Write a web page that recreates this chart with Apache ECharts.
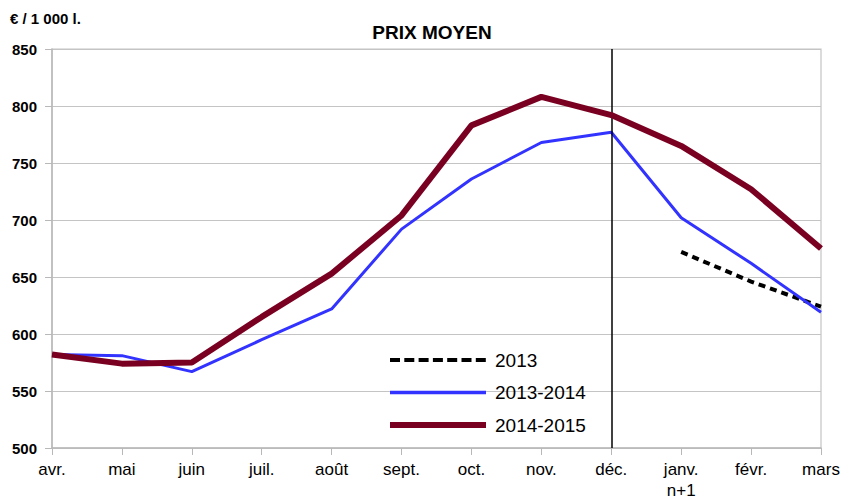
<!DOCTYPE html>
<html><head><meta charset="utf-8">
<script src="https://cdn.jsdelivr.net/npm/echarts@6/dist/echarts.min.js"></script>
<style>html,body{margin:0;padding:0;background:#fff;overflow:hidden}#c{width:844px;height:503px}</style>
</head><body><div id="c"></div>
<script>
const categories = ['avr.','mai','juin','juil.','août','sept.','oct.','nov.','déc.','janv.\nn+1','févr.','mars'];
const s2013 = [null,null,null,null,null,null,null,null,null,672,646,624];
const s2013_2014 = [582,581,567,595,622,692,736,768,777,702,662,619];
const s2014_2015 = [582,574,575,615,653,704,783,808,792,765,727,675];
const yTicks = [500,550,600,650,700,750,800,850];

const chart = echarts.init(document.getElementById('c'), null, {renderer:'svg'});
const font = 'Liberation Sans, Arial, sans-serif';
// legend icons (box 96 x 6)
let dashPath = 'M0,0 M96,6';
for (let x = 0; x < 96; x += 14.3) {
  const w = Math.min(10, 96 - x);
  dashPath += ` M${x},1 L${x+w},1 L${x+w},5 L${x},5 Z`;
}
const iconDash = 'path://' + dashPath;
const iconBlue = 'path://M0,0 M96,6 M0,1.3 L96,1.3 L96,4.7 L0,4.7 Z';
const iconRed = 'path://M0,0 L96,0 L96,6 L0,6 Z';

chart.setOption({
  animation:false,
  title:{text:'PRIX MOYEN',left:427,textAlign:'center',top:18,textStyle:{fontFamily:font,fontSize:19,fontWeight:'bold',color:'#000'}},
  graphic:[
    {type:'text',left:10,top:11,style:{text:'€ / 1 000 l.',fontFamily:font,fontSize:15,fontWeight:'bold',fill:'#000'}}
  ],
  grid:{left:52,right:23,top:49,bottom:55,containLabel:false,outerBoundsMode:'none',
        show:true,borderColor:'#c4c4c4',borderWidth:1.2,backgroundColor:'transparent'},
  legend:{
    orient:'vertical',left:385,top:345,itemWidth:96,itemHeight:6,itemGap:12.5,
    symbolKeepAspect:false,
    textStyle:{fontFamily:font,fontSize:19,lineHeight:20,color:'#000',padding:[0,0,0,4]},
    data:[
      {name:'2013',icon:iconDash,itemStyle:{color:'#000'}},
      {name:'2013-2014',icon:iconBlue,itemStyle:{color:'#3333ff'}},
      {name:'2014-2015',icon:iconRed,itemStyle:{color:'#7a0022'}}
    ]
  },
  xAxis:{
    type:'category',data:categories,boundaryGap:false,
    axisLine:{lineStyle:{color:'#b8b8b8',width:1.5}},
    axisTick:{show:true,length:7,lineStyle:{color:'#b8b8b8'}},
    axisLabel:{fontFamily:font,fontSize:17,color:'#000',margin:11,lineHeight:21,interval:0},
    splitLine:{show:false}
  },
  yAxis:{
    type:'value',min:500,max:850,interval:50,
    axisLine:{show:true,lineStyle:{color:'#b8b8b8',width:1.5}},
    axisTick:{show:true,length:7,lineStyle:{color:'#b8b8b8'}},
    axisLabel:{fontFamily:font,fontSize:15,fontWeight:'bold',color:'#000',margin:15,
      formatter:v=>yTicks.includes(v)?String(v):''},
    splitLine:{show:true,lineStyle:{color:'#c4c4c4',width:1.2}}
  },
  series:[
    {name:'2013',type:'line',data:s2013,symbol:'none',connectNulls:false,z:3,
     lineStyle:{color:'#000',width:4,type:[7,5]},itemStyle:{color:'#000'}},
    {name:'2013-2014',type:'line',data:s2013_2014,symbol:'none',z:4,
     lineStyle:{color:'#3333ff',width:3},itemStyle:{color:'#3333ff'}},
    {name:'2014-2015',type:'line',data:s2014_2015,symbol:'none',z:5,
     lineStyle:{color:'#7a0022',width:6},itemStyle:{color:'#7a0022'},
     markLine:{silent:true,symbol:'none',label:{show:false},
       lineStyle:{color:'#000',width:1.5,type:'solid'},
       data:[{xAxis:'déc.'}]}}
  ]
});
</script></body></html>
